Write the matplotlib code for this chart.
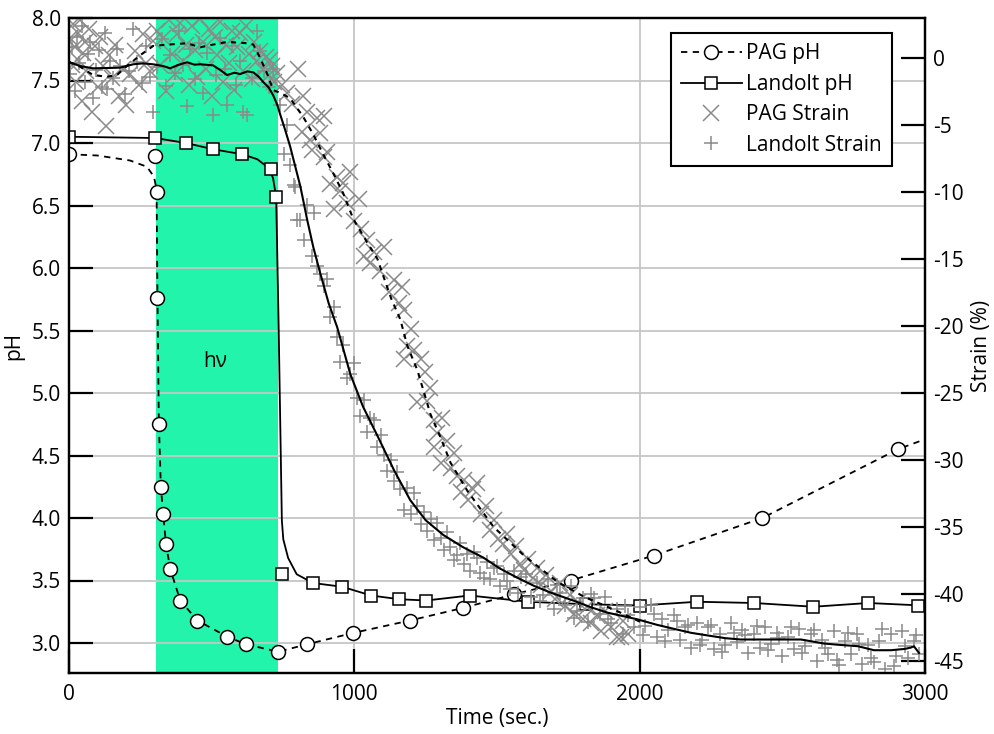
import numpy as np
import matplotlib
matplotlib.use('Agg')
import matplotlib.pyplot as plt
from matplotlib.lines import Line2D

plt.rcParams['font.family'] = ['Open Sans', 'DejaVu Sans']
plt.rcParams['font.size'] = 15
plt.rcParams['axes.unicode_minus'] = False

# PAG pH (circles, dashed)
pag_ph_x = [0, 301, 307, 310, 315, 322, 330, 340, 355, 390, 450, 555, 620, 733, 835,
            995, 1195, 1380, 1560, 1758, 2050, 2430, 2905]
pag_ph_y = [6.91, 6.90, 6.61, 5.76, 4.75, 4.25, 4.03, 3.79, 3.59, 3.34, 3.18, 3.05, 2.99,
            2.93, 2.99, 3.08, 3.18, 3.28, 3.39, 3.50, 3.70, 4.00, 4.55]
pag_ph_line_x = [0, 100, 214, 273, 298, 304, 307, 310, 315, 322, 330, 340, 355, 390, 450,
                 555, 620, 733, 835, 995, 1195, 1380, 1560, 1758, 2050, 2430, 2905, 3000]
pag_ph_line_y = [6.91, 6.90, 6.86, 6.81, 6.73, 6.66, 6.61, 5.76, 4.75, 4.25, 4.03, 3.79,
                 3.59, 3.34, 3.18, 3.05, 2.99, 2.93, 2.99, 3.08, 3.18, 3.28, 3.39, 3.50,
                 3.70, 4.00, 4.55, 4.63]

# Landolt pH (squares, solid)
lan_ph_x = [0, 301, 410, 505, 607, 708, 726, 747, 855, 957, 1059, 1158, 1252, 1404, 1609,
            1811, 2000, 2202, 2401, 2609, 2801, 2974]
lan_ph_y = [7.05, 7.04, 7.00, 6.95, 6.91, 6.79, 6.57, 3.55, 3.48, 3.45, 3.38, 3.35, 3.34,
            3.38, 3.33, 3.31, 3.30, 3.33, 3.32, 3.29, 3.32, 3.30]
lan_ph_line_x = [0, 301, 410, 505, 607, 660, 700, 715, 726, 735, 746, 751, 768, 798, 855,
                 957, 1059, 1158, 1252, 1404, 1609, 1811, 2000, 2202, 2401, 2609, 2801, 2990]
lan_ph_line_y = [7.05, 7.04, 7.00, 6.95, 6.91, 6.87, 6.80, 6.72, 6.57, 5.50, 3.98, 3.83,
                 3.68, 3.55, 3.48, 3.45, 3.38, 3.35, 3.34, 3.38, 3.33, 3.31, 3.30, 3.33,
                 3.32, 3.29, 3.32, 3.30]

# smoothed strain curves
pag_strain_line_x = [0, 39, 84, 133, 168, 203, 249, 295, 344, 414, 460, 505, 554, 625, 646,
                     670, 695, 716, 740, 775, 821, 856, 891, 926, 961, 996, 1046, 1081, 1102,
                     1130, 1161, 1186, 1221, 1267, 1302, 1337, 1396, 1488, 1593, 1712, 1804,
                     1923, 2004]
pag_strain_line_y = [-0.3, -0.65, -1.27, -1.4, -1.27, -0.6, 0.2, 0.9, 1.0, 1.1, 0.8, 1.0,
                     1.2, 1.1, 1.0, 0.0, -1.2, -2.4, -2.6, -3.0, -4.4, -5.7, -7.2, -8.6,
                     -10.1, -12.0, -13.8, -15.0, -16.3, -18.0, -19.5, -21.5, -23.3, -26.6,
                     -28.3, -30.2, -32.3, -35.0, -37.1, -39.1, -40.2, -41.3, -42.1]
lan_strain_line_x = [0, 39, 84, 130, 179, 225, 260, 295, 330, 354, 385, 414, 440, 460, 505,
                     530, 554, 580, 600, 625, 646, 665, 681, 700, 716, 730, 740, 758, 775,
                     793, 811, 835, 856, 881, 910, 940, 986, 1030, 1081, 1140, 1196, 1250,
                     1312, 1380, 1453, 1510, 1572, 1630, 1688, 1768, 1830, 1888, 1993, 2060,
                     2119, 2180, 2239, 2300, 2354, 2410, 2470, 2565, 2646, 2700, 2765, 2821,
                     2881, 2930, 2951, 2961, 2979]
lan_strain_line_y = [-0.3, -0.6, -0.77, -0.75, -0.72, -0.47, -0.4, -0.47, -0.6, -0.77, -0.5,
                     -0.32, -0.5, -0.47, -0.55, -0.9, -1.27, -1.1, -1.2, -1.0, -1.07, -1.4,
                     -1.8, -2.2, -2.8, -3.5, -4.2, -5.4, -6.6, -8.1, -9.6, -12.1, -14.1,
                     -16.1, -18.3, -20.1, -23.6, -26.0, -28.2, -30.8, -33.0, -34.5, -35.6,
                     -36.5, -37.3, -38.1, -38.8, -39.4, -39.9, -40.5, -41.0, -41.4, -41.9,
                     -42.3, -42.6, -42.9, -43.1, -43.3, -43.4, -43.4, -43.4, -43.4, -43.7,
                     -43.8, -43.9, -44.2, -44.2, -44.1, -44.0, -43.9, -44.4]

# PAG strain scatter
pag_strain_x = [5, 10, 15, 20, 25, 30, 35, 40, 45, 50, 55, 60, 70, 80, 90, 100, 110, 120, 130,
                140, 150, 160, 175, 190, 200, 215, 230, 245, 260, 270, 285, 295,
                310, 320, 330, 340, 350, 360, 370, 380, 390, 400, 410, 420, 430, 440, 450,
                460, 470, 480, 490, 500, 510, 520, 530, 540, 550, 560, 570, 580, 590, 600,
                610, 620, 630, 640, 650, 660, 670, 680, 690, 700, 705, 710, 720,
                729, 745, 764, 780, 804, 816, 821, 835, 846, 850, 869, 880, 892, 892, 905,
                916, 927, 940, 951, 960, 975, 986, 998, 1015, 1025, 1033, 1044, 1056, 1070,
                1090, 1103, 1120, 1140, 1155, 1167, 1173, 1173, 1185, 1200, 1208, 1220,
                1232, 1249, 1255, 1265, 1278, 1278, 1290, 1302, 1308, 1325, 1340, 1350,
                1360, 1375, 1384, 1400, 1415, 1430, 1445, 1460, 1475, 1490, 1505, 1520,
                1535, 1550, 1565, 1580, 1595, 1610, 1625, 1640, 1655, 1670, 1690, 1705,
                1720, 1740, 1755, 1770, 1785, 1800, 1815, 1830, 1850, 1865, 1880, 1900,
                1920, 1933, 1940, 1960]
pag_strain_y = [1.5, -0.5, 2.5, 0.8, -1.8, 1.9, -0.2, 2.8, -3.2, 0.4, 1.2, -1.0, 2.2, -4.0,
                0.9, -2.2, 1.6, -0.6, -5.1, 0.2, -1.5, 1.0, -2.8, -0.8, -3.5, -1.2, 0.5,
                -2.0, 1.8, -0.4, -1.0, 1.3,
                2.0, -0.5, 1.5, -2.5, 2.8, 0.3, -1.2, 1.8, 2.6, -0.2, 1.0, -2.0, 2.4, 0.6,
                -1.4, 2.9, 1.2, -0.8, 2.2, -2.8, 1.6, 0.2, 2.7, -1.8, 1.0, -0.4, 2.0, -2.4,
                0.8, 1.9, -1.0, 2.4, 0.3, -1.6, 1.2, -0.2, 0.5, -0.9, 0.1, -1.3, -0.15,
                -0.6, -1.8,
                -1.1, -2.0, -2.6, -3.4, -0.8, -5.5, -2.8, -4.0, -6.1, -6.9, -4.5, -5.6,
                -4.3, -7.4, -7.0, -9.4, -11.3, -8.9, -9.9, -9.3, -10.8, -8.5, -12.2, -10.5,
                -12.8, -14.8, -13.6, -15.3, -14.5, -15.9, -14.1, -17.5, -16.6, -18.3,
                -17.1, -18.8, -22.5, -21.5, -20.2, -21.8, -25.7, -22.5, -23.4, -25.6,
                -24.6, -27.0, -29.0, -28.0, -30.2, -26.9, -28.6, -30.6, -29.5, -31.2,
                -32.4, -31.5, -33.0, -32.2, -31.7, -34.0, -33.4, -35.2, -34.5, -35.9,
                -36.3, -35.5, -37.0, -36.4, -37.8, -38.2, -37.4, -38.8, -38.1, -39.3,
                -38.6, -39.8, -40.4, -39.2, -40.9, -40.1, -41.5, -40.6, -41.9, -41.0,
                -42.2, -41.6, -42.8, -41.3, -42.5, -43.2, -43.2, -42.0, -43.0]

# Landolt strain scatter
lan_strain_x = [5, 12, 20, 28, 35, 45, 55, 65, 75, 85, 95, 105, 115, 125, 132, 145, 155, 167,
                180, 195, 210, 225, 240, 255, 270, 285, 295, 310, 325, 340, 355, 370, 385,
                400, 413, 425, 440, 455, 470, 485, 505, 515, 530, 545, 554, 570, 585, 600,
                611, 623, 640, 659, 670, 685, 700, 715,
                740, 752, 765, 775, 787, 793, 799, 811, 822, 835, 851, 857, 869, 881, 892,
                905, 916, 928, 940, 951, 962, 975, 986, 998, 1010, 1021, 1033, 1044, 1056,
                1068, 1080, 1092, 1103, 1115, 1127, 1140, 1150, 1161, 1173, 1185, 1197,
                1208, 1220, 1232, 1243, 1255, 1267, 1278, 1290, 1302, 1314, 1325, 1337,
                1348, 1360, 1372, 1384, 1396, 1407, 1420, 1430, 1442, 1453, 1465, 1477,
                1490, 1500, 1512, 1524, 1535, 1547, 1560, 1572, 1585,
                1600, 1620, 1640, 1650, 1660, 1680, 1700, 1710, 1720, 1740, 1760, 1770,
                1780, 1800, 1820, 1830, 1840, 1860, 1880, 1890, 1900, 1920, 1940, 1950,
                1960, 1980, 2000, 2010, 2020, 2040, 2050, 2060, 2080, 2090, 2100, 2120,
                2130, 2140, 2160, 2170, 2180, 2200, 2210, 2220, 2240, 2250, 2260, 2280,
                2290, 2300, 2320, 2330, 2340, 2360, 2370, 2380, 2400, 2410, 2420, 2440,
                2450, 2460, 2480, 2490, 2500, 2520, 2530, 2540, 2560, 2570, 2580, 2600,
                2610, 2620, 2640, 2650, 2660, 2680, 2690, 2700, 2720, 2730, 2740, 2760,
                2770, 2780, 2800, 2810, 2820, 2840, 2850, 2860, 2880, 2890, 2900, 2920,
                2930, 2940, 2960, 2970, 2980]
lan_strain_y = [-1.2, 0.8, -2.5, 1.6, -0.4, 2.4, -1.8, 0.3, 1.2, -3.0, -0.9, 0.6, -2.2, 1.9,
                -2.3, -0.2, -1.5, 0.7, -0.6, -2.7, -1.0, 2.2, -0.3, -1.9, 0.9, -1.4, -4.0,
                -0.7, 1.4, -2.1, 0.2, -1.1, 2.0, -0.5, -3.6, 0.7, -1.6, 1.1, -2.6, 0.4,
                -4.25, -1.3, 1.5, -0.8, -3.5, 0.9, -2.0, -0.2, -4.0, -4.25, -1.5, 2.0, 0.5,
                -1.0, -2.2, -0.8,
                -3.5, -7.2, -5.0, -8.0, -9.5, -9.6, -12.1, -12.1, -13.6, -11.0, -14.8,
                -11.6, -15.5, -16.1, -17.0, -16.5, -19.3, -18.6, -20.8, -22.7, -21.4,
                -23.9, -23.6, -22.8, -25.4, -26.7, -25.5, -27.9, -26.9, -27.0, -29.0,
                -28.1, -29.6, -30.8, -30.0, -31.6, -30.9, -32.2, -33.7, -32.1, -34.0,
                -32.5, -33.4, -34.8, -33.9, -35.3, -34.4, -36.0, -34.7, -35.8, -36.7,
                -35.4, -36.5, -37.5, -37.1, -36.2, -37.8, -37.0, -38.3, -36.9, -37.3,
                -38.4, -38.8, -37.6, -38.9, -38.1, -37.9, -39.4, -38.5, -39.0, -39.6,
                -38.3, -39.9, -38.7,
                -38.5, -40.2, -39.2, -40.5, -40.1, -38.9, -41.1, -39.3, -39.9, -40.8,
                -39.4, -41.8, -41.3, -40.3, -42.1, -40.0, -40.3, -41.5, -40.2, -41.9,
                -42.2, -41.1, -43.0, -40.9, -41.6, -42.5, -41.0, -43.1, -42.4, -40.8,
                -41.5, -43.2, -41.9, -43.5, -42.7, -41.6, -42.0, -43.4, -42.5, -42.3,
                -44.0, -42.2, -43.8, -43.4, -42.5, -42.3, -44.1, -43.0, -44.3, -43.8,
                -42.2, -42.9, -43.6, -42.7, -43.1, -44.4, -43.0, -42.4, -44.0, -42.5,
                -44.2, -43.7, -42.9, -43.3, -44.6, -43.2, -42.5, -44.1, -42.6, -44.4,
                -43.9, -43.0, -42.7, -45.0, -43.4, -44.0, -44.5, -42.8, -44.9, -45.3,
                -43.5, -42.9, -44.5, -43.0, -43.7, -45.2, -43.8, -44.8, -45.1, -43.5,
                -42.6, -45.6, -43.0, -45.4, -44.6, -42.8, -43.9, -44.8, -43.5, -43.1,
                -44.5]

x_ticks = [0, 1000, 2000, 3000]
ph_ticks = [3.0, 3.5, 4.0, 4.5, 5.0, 5.5, 6.0, 6.5, 7.0, 7.5, 8.0]
strain_ticks = [0, -5, -10, -15, -20, -25, -30, -35, -40, -45]
light_on, light_off = 305, 732

green = '#22f5ab'
grey = '#8a8a8a'

fig = plt.figure(figsize=(9.94, 7.34), dpi=100)
ax1 = fig.add_axes([69 / 994, 61 / 734, 856 / 994, 655 / 734])
ax2 = ax1.twinx()

ax1.axvspan(light_on, light_off, color=green, lw=0, zorder=0.3)
ax1.set_axisbelow(True)
ax1.grid(True, color='#c6c6c6', lw=1.3)

ax1.plot(pag_ph_line_x, pag_ph_line_y, color='k', lw=1.3, dashes=(3.5, 3), zorder=2)
ax1.plot(pag_ph_x, pag_ph_y, ls='none', marker='o', ms=10, mfc='white', mec='k',
         mew=1.1, zorder=3)
ax1.plot(lan_ph_line_x, lan_ph_line_y, color='k', lw=1.3, zorder=2)
ax1.plot(lan_ph_x, lan_ph_y, ls='none', marker='s', ms=9, mfc='white', mec='k',
         mew=1.1, zorder=3)
ax1.text(512, 5.25, 'h\u03bd', ha='center', va='center', fontsize=15)

ax2.plot(pag_strain_x, pag_strain_y, ls='none', marker='x', ms=11, mew=1.1, color=grey)
ax2.plot(lan_strain_x, lan_strain_y, ls='none', marker='+', ms=10, mew=1.1, color=grey)
ax2.plot(pag_strain_line_x, pag_strain_line_y, color='k', lw=1.5, dashes=(2.5, 2.5))
ax2.plot(lan_strain_line_x, lan_strain_line_y, color='k', lw=1.5)

ax1.set_xlim(0, 3000)
ax1.set_ylim(2.76, 8.0)
ax2.set_ylim(-45.9, 2.985)
ax1.set_xticks(x_ticks)
ax1.set_yticks(ph_ticks)
ax1.set_yticklabels(['%.1f' % v for v in ph_ticks])
ax2.set_yticks(strain_ticks)

ax1.tick_params(axis='both', direction='in', length=17, width=1.6, labelsize=15, pad=6)
ax1.tick_params(axis='x', pad=8)
ax2.tick_params(axis='y', direction='in', length=17, width=1.6, labelsize=15, pad=6)
for ax in (ax1, ax2):
    for s in ax.spines.values():
        s.set_linewidth(1.6)

ax1.set_xlabel('Time (sec.)', fontsize=15, labelpad=2)
ax1.set_ylabel('pH', fontsize=15, labelpad=5)
ax2.set_ylabel('Strain (%)', fontsize=15, labelpad=5)

handles = [
    Line2D([], [], color='k', lw=1.3, dashes=(3.5, 3), marker='o', ms=10,
           mfc='white', mec='k', mew=1.1),
    Line2D([], [], color='k', lw=1.3, marker='s', ms=9, mfc='white', mec='k', mew=1.1),
    Line2D([], [], ls='none', marker='x', ms=11, mew=1.1, color=grey),
    Line2D([], [], ls='none', marker='+', ms=10, mew=1.1, color=grey),
]
leg = ax2.legend(handles, ['PAG pH', 'Landolt pH', 'PAG Strain', 'Landolt Strain'],
                 loc='upper right', bbox_to_anchor=(892 / 994, 1 - 33 / 734),
                 bbox_transform=fig.transFigure, borderaxespad=0, fancybox=False,
                 framealpha=1, edgecolor='k', handlelength=2.9, handletextpad=0.2,
                 labelspacing=0.45, borderpad=0.5, fontsize=15)
leg.get_frame().set_linewidth(1.5)

fig.savefig('out.png', dpi=100)
